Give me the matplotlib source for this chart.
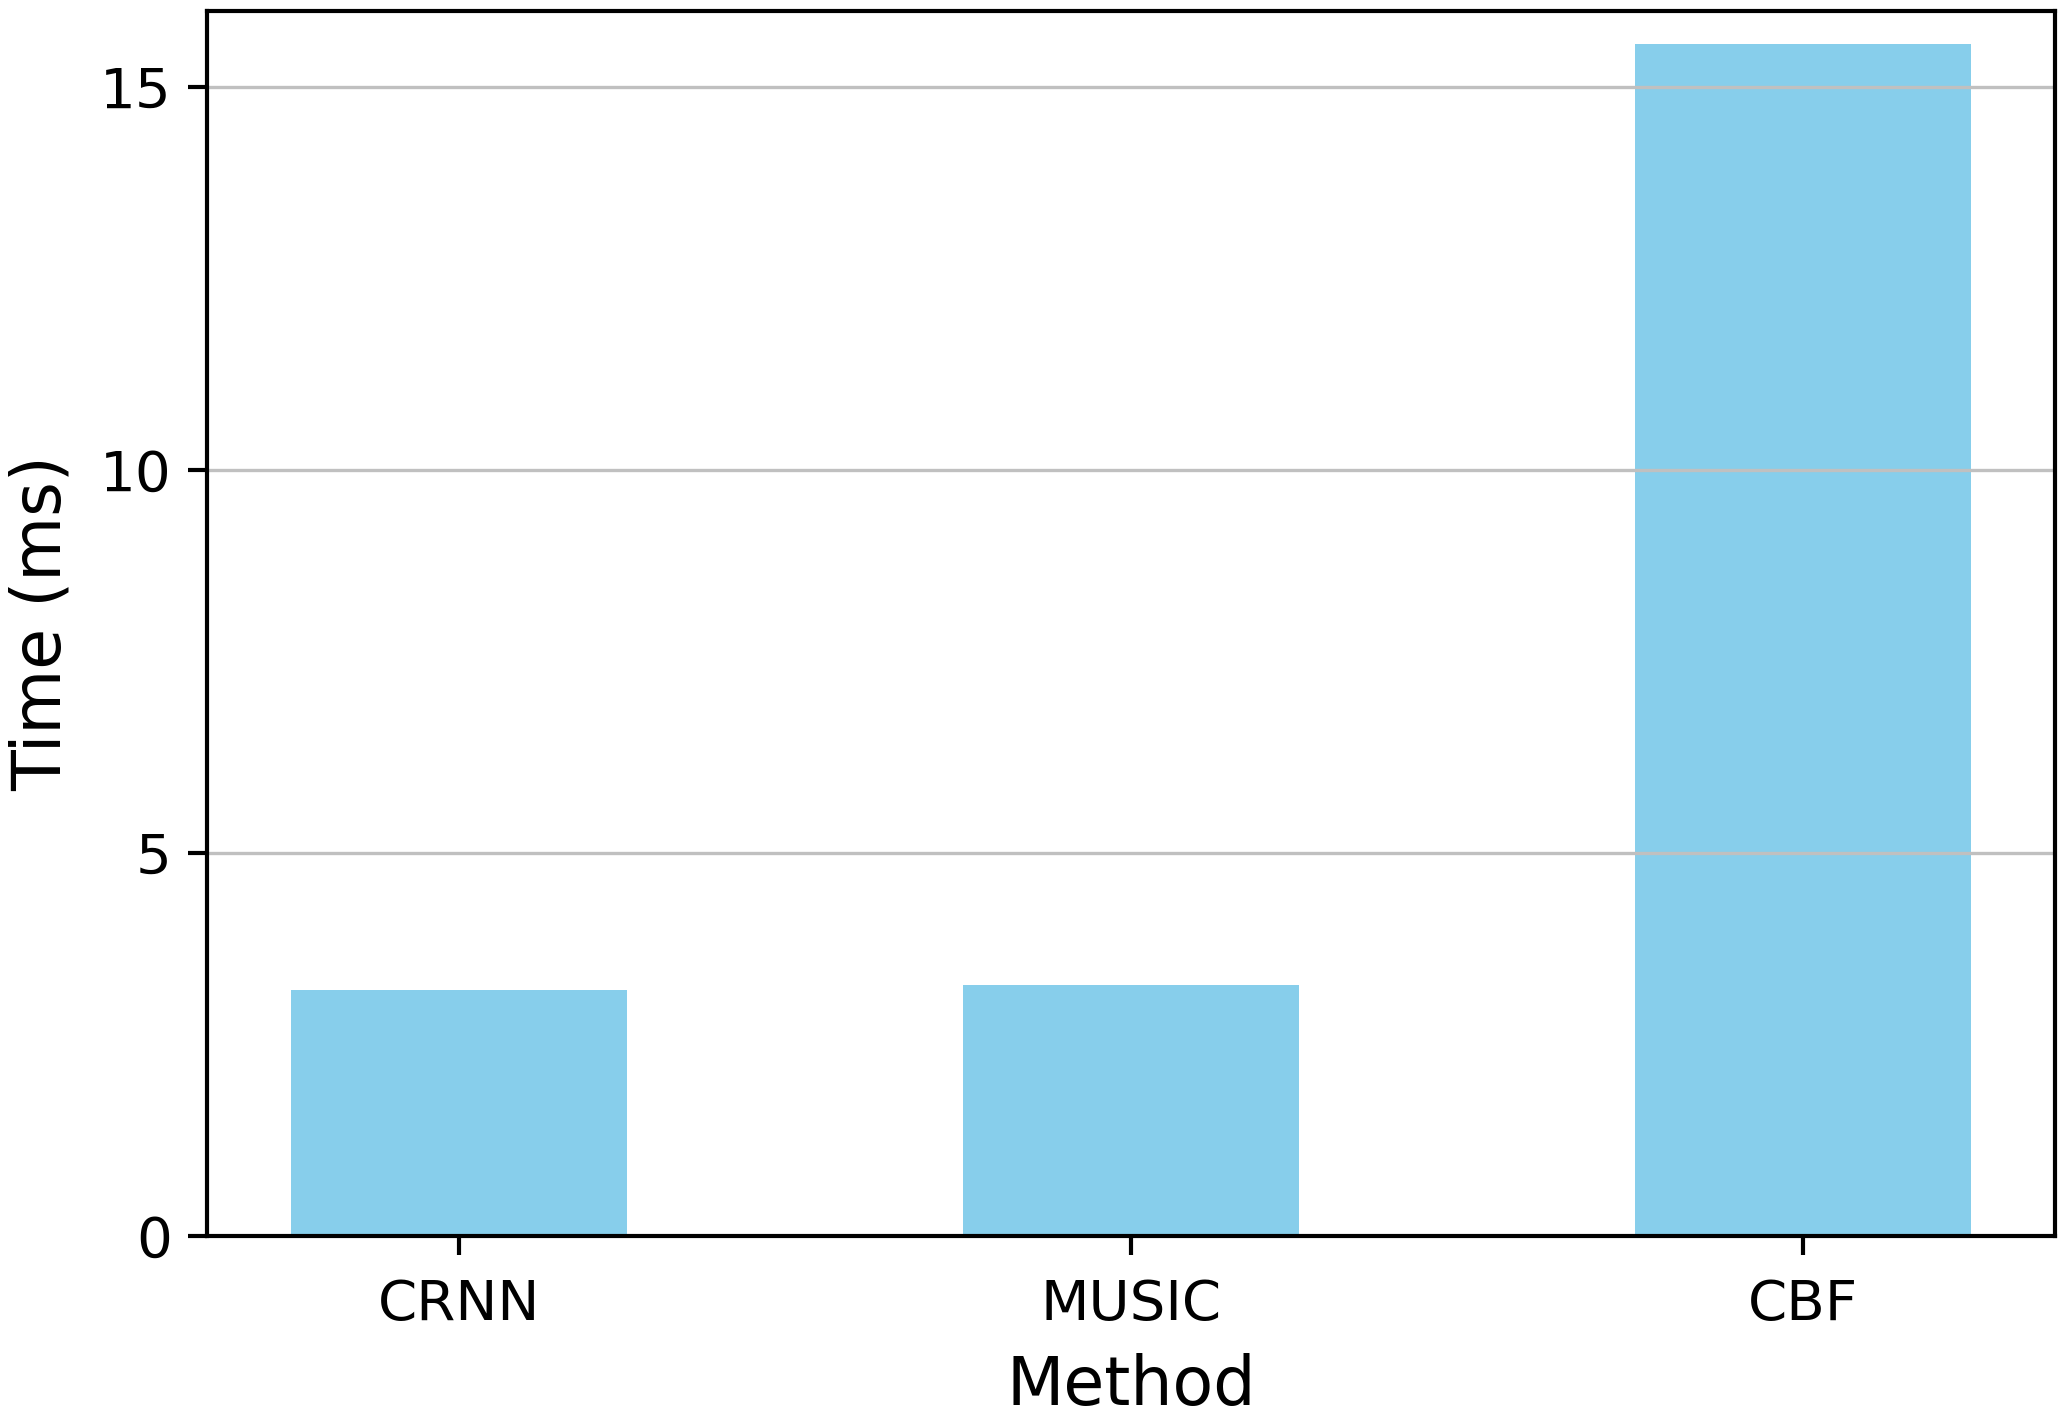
import matplotlib
matplotlib.use('Agg')
import matplotlib.pyplot as plt

# Inference time per method
methods = ['CRNN', 'MUSIC', 'CBF']
times_ms = [3.21, 3.28, 15.57]

def plot_times():
    fig, ax = plt.subplots(figsize=(2071 / 300, 1416 / 300), dpi=300)
    fig.subplots_adjust(left=0.100, right=0.9925, bottom=0.127, top=0.9925)

    ax.bar(methods, times_ms, width=0.5, color='skyblue')
    ax.set_ylim(0, 16)
    ax.set_yticks([0, 5, 10, 15])
    ax.yaxis.grid(True, color='silver', linewidth=0.8)

    ax.set_xlabel('Method', fontsize=16, labelpad=5)
    ax.set_ylabel('Time (ms)', fontsize=16, labelpad=6)
    ax.tick_params(labelsize=13.5, width=1, length=4.5)
    ax.tick_params(axis='x', pad=5.5)
    ax.tick_params(axis='y', pad=4)
    for spine in ax.spines.values():
        spine.set_linewidth(1)

    fig.savefig('out.png', dpi=300)

if __name__ == '__main__':
    plot_times()
